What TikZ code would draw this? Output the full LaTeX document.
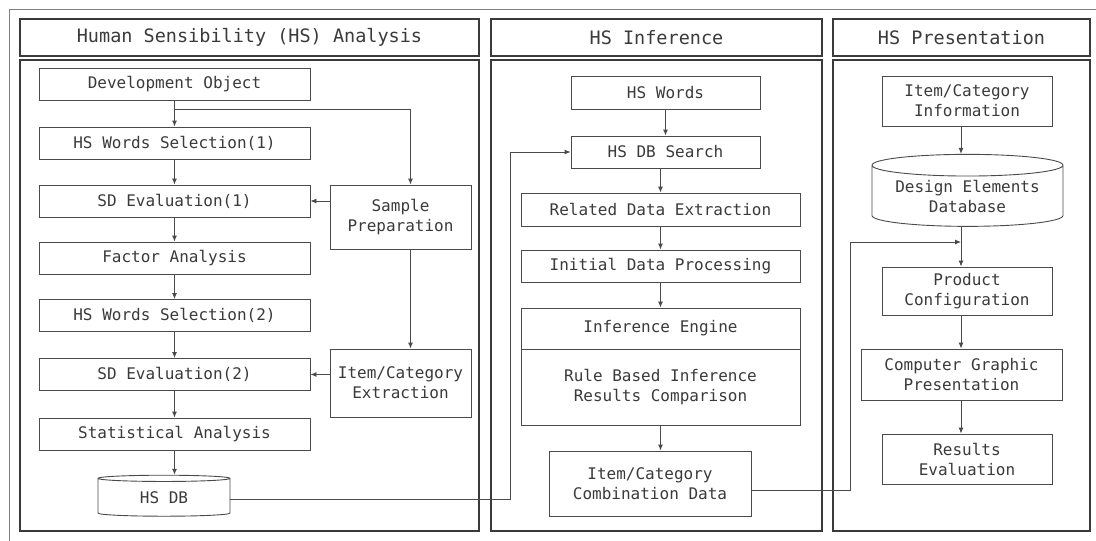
\documentclass[tikz,border=0pt]{standalone}
\usepackage{fontspec}
\usepackage{tikz}
\usepackage{xcolor}
\usetikzlibrary{arrows.meta,shapes.geometric}
\newfontfamily\gulim{DejaVu Sans Mono}
\definecolor{ink}{HTML}{3A3A3A}
\definecolor{rim}{HTML}{4A4A4A}

\begin{document}
\begin{tikzpicture}[x=1pt, y=-1pt,
  every node/.style={font=\gulim\fontsize{16}{20}\selectfont, text=ink, inner sep=0pt, align=center},
  blk/.style={rectangle, draw=rim, line width=0.9pt},
  dbase/.style={cylinder, shape border rotate=90, draw=rim, line width=0.9pt},
  hdr/.style={rectangle, draw=ink, line width=2.6pt, minimum height=37pt, font=\gulim\fontsize{18.5}{22}\selectfont},
  panel/.style={draw=ink, line width=2.6pt}]
\useasboundingbox (0,0) rectangle (1096,541);
\draw[rim!70, line width=0.8pt] (9,545) -- (9,9) -- (1100,9);

% Panels
\node[hdr, minimum width=459pt] (anahead) at (249.5,37.5) {Human Sensibility (HS) Analysis};
\node[hdr, minimum width=331pt] (infhead) at (656.5,37.5) {HS Inference};
\node[hdr, minimum width=257pt] (prehead) at (961.5,37.5) {HS Presentation};
\draw[panel] (20,60) rectangle (479,531);
\draw[panel] (491,60) rectangle (822,531);
\draw[panel] (833,60) rectangle (1090,531);

% Analysis
\node[blk, minimum width=271pt, minimum height=32pt] (devobj) at (174.5,84) {Development Object};
\node[blk, minimum width=271pt, minimum height=32pt] (words1) at (174.5,143) {HS Words Selection(1)};
\node[blk, minimum width=271pt, minimum height=32pt] (sd1) at (174.5,201) {SD Evaluation(1)};
\node[blk, minimum width=271pt, minimum height=32pt] (factor) at (174.5,258) {Factor Analysis};
\node[blk, minimum width=271pt, minimum height=32pt] (words2) at (174.5,315.5) {HS Words Selection(2)};
\node[blk, minimum width=271pt, minimum height=32pt] (sd2) at (174.5,374.5) {SD Evaluation(2)};
\node[blk, minimum width=271pt, minimum height=32pt] (stat) at (174.5,434) {Statistical Analysis};
\node[dbase, minimum width=132pt, minimum height=41pt, aspect=0.13] (hsdb) at (164,497.5) {HS DB};
\node[blk, minimum width=141pt, minimum height=64pt] (sample) at (400.5,217) {Sample\\Preparation};
\node[blk, minimum width=141pt, minimum height=68pt] (extract) at (400.5,383) {Item/Category\\Extraction};
\coordinate (split) at (174.5,109);
\coordinate (turn1) at (510,152);

\draw[rim, line width=0.9pt, -{Latex[length=6pt,width=5pt]}] (devobj) -- (words1);
\draw[rim, line width=0.9pt, -{Latex[length=6pt,width=5pt]}] (words1) -- (sd1);
\draw[rim, line width=0.9pt, -{Latex[length=6pt,width=5pt]}] (sd1) -- (factor);
\draw[rim, line width=0.9pt, -{Latex[length=6pt,width=5pt]}] (factor) -- (words2);
\draw[rim, line width=0.9pt, -{Latex[length=6pt,width=5pt]}] (words2) -- (sd2);
\draw[rim, line width=0.9pt, -{Latex[length=6pt,width=5pt]}] (sd2) -- (stat);
\draw[rim, line width=0.9pt, -{Latex[length=6pt,width=5pt]}] (stat.south) -- (stat.south |- hsdb.north);
\draw[rim, line width=0.9pt, -{Latex[length=6pt,width=5pt]}] (split) -| ([xshift=10pt]sample.north);
\draw[rim, line width=0.9pt, -{Latex[length=6pt,width=5pt]}] (sample.west |- sd1) -- (sd1);
\draw[rim, line width=0.9pt, -{Latex[length=6pt,width=5pt]}] ([xshift=10pt]sample.south) -- ([xshift=10pt]extract.north);
\draw[rim, line width=0.9pt, -{Latex[length=6pt,width=5pt]}] (extract.west |- sd2) -- (sd2);

% Inference
\node[blk, minimum width=189pt, minimum height=33pt] (hswords) at (665.5,92.5) {HS Words};
\node[blk, minimum width=189pt, minimum height=32pt] (dbsearch) at (665.5,152) {HS DB Search};
\node[blk, minimum width=279pt, minimum height=33pt] (related) at (660.5,209.5) {Related Data Extraction};
\node[blk, minimum width=279pt, minimum height=32pt] (initial) at (660.5,266) {Initial Data Processing};
\node[blk, minimum width=279pt, minimum height=41pt] (engine) at (660.5,328.5) {Inference Engine};
\node[blk, minimum width=279pt, minimum height=76pt] (rules) at (660.5,387) {Rule Based Inference\\Results Comparison};
\node[blk, minimum width=202pt, minimum height=65pt] (combo) at (650,483.5) {Item/Category\\Combination Data};
\coordinate (turn2) at (850,242);
\coordinate (join) at (961,242);

\draw[rim, line width=0.9pt, -{Latex[length=6pt,width=5pt]}] (hswords) -- (dbsearch);
\draw[rim, line width=0.9pt, -{Latex[length=6pt,width=5pt]}] (dbsearch.south -| related) -- (related);
\draw[rim, line width=0.9pt, -{Latex[length=6pt,width=5pt]}] (related) -- (initial);
\draw[rim, line width=0.9pt, -{Latex[length=6pt,width=5pt]}] (initial) -- (engine);
\draw[rim, line width=0.9pt, -{Latex[length=6pt,width=5pt]}] (rules.south) -- (rules.south |- combo.north);
\draw[rim, line width=0.9pt, -{Latex[length=6pt,width=5pt]}] ([yshift=-1.5pt]hsdb.east) -| (turn1) -- (dbsearch.west);
\draw[rim, line width=0.9pt, -{Latex[length=6pt,width=5pt]}] ([yshift=-6.5pt]combo.east) -| (turn2) -- (join);

% Presentation
\node[blk, minimum width=170pt, minimum height=50pt] (info) at (967,101) {Item/Category\\Information};
\node[dbase, minimum width=191pt, minimum height=72pt, aspect=0.15] (dedb) at (967.5,196) {Design Elements\\Database};
\node[blk, minimum width=170pt, minimum height=48pt] (product) at (967,291) {Product\\Configuration};
\node[blk, minimum width=201pt, minimum height=51pt] (graphic) at (961.5,374.5) {Computer Graphic\\Presentation};
\node[blk, minimum width=170pt, minimum height=50pt] (results) at (967,459) {Results\\Evaluation};

\draw[rim, line width=0.9pt, -{Latex[length=6pt,width=5pt]}] (info.south -| join) -- (dedb.north -| join);
\draw[rim, line width=0.9pt, -{Latex[length=6pt,width=5pt]}] (dedb.south -| join) -- (product.north -| join);
\draw[rim, line width=0.9pt, -{Latex[length=6pt,width=5pt]}] (product.south -| join) -- (graphic.north -| join);
\draw[rim, line width=0.9pt, -{Latex[length=6pt,width=5pt]}] (graphic.south -| join) -- (results.north -| join);
\end{tikzpicture}
\end{document}
